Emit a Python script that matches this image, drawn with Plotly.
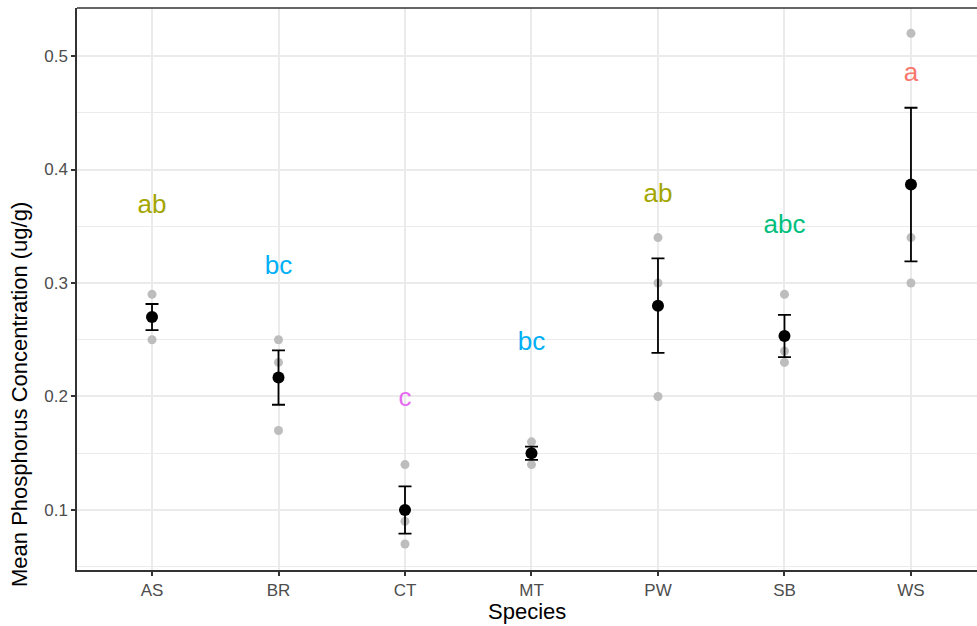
import plotly.graph_objects as go

species = ["AS", "BR", "CT", "MT", "PW", "SB", "WS"]
# individual replicate values (grey points)
rep1 = [0.29, 0.25, 0.14, 0.16, 0.34, 0.29, 0.52]
rep2 = [0.27, 0.23, 0.09, 0.15, 0.30, 0.24, 0.34]
rep3 = [0.25, 0.17, 0.07, 0.14, 0.20, 0.23, 0.30]
# means and standard errors
means = [0.270, 0.2167, 0.100, 0.150, 0.280, 0.2533, 0.3867]
ses = [0.0115, 0.0240, 0.0208, 0.0058, 0.0416, 0.0186, 0.0677]
# significance letters
letters = ["ab", "bc", "c", "bc", "ab", "abc", "a"]
letter_y = [0.367, 0.314, 0.197, 0.247, 0.377, 0.350, 0.484]
letter_colors = {"a": "#F8766D", "ab": "#A3A500", "abc": "#00BF7D",
                 "bc": "#00B0F6", "c": "#E76BF3"}
y_ticks = [0.1, 0.2, 0.3, 0.4, 0.5]

FONT = "Liberation Sans, Arial, sans-serif"

fig = go.Figure()

for reps in (rep1, rep2, rep3):
    fig.add_trace(go.Scatter(
        x=species, y=reps, mode="markers",
        marker=dict(color="#BDBDBD", size=9, line=dict(width=0)),
        showlegend=False, hoverinfo="skip"))

fig.add_trace(go.Scatter(
    x=species, y=means, mode="markers",
    marker=dict(color="black", size=12, line=dict(width=0)),
    error_y=dict(type="data", array=ses, visible=True, color="black",
                 thickness=1.8, width=6.5),
    showlegend=False))

fig.add_trace(go.Scatter(
    x=species, y=letter_y, mode="text", text=letters,
    textposition="middle center",
    textfont=dict(family=FONT, size=26,
                  color=[letter_colors[l] for l in letters]),
    showlegend=False, hoverinfo="skip"))

fig.update_layout(
    width=977, height=626,
    margin=dict(l=77, r=0, t=8, b=56),
    plot_bgcolor="white", paper_bgcolor="white",
    font=dict(family=FONT),
    xaxis=dict(
        type="category", categoryorder="array", categoryarray=species,
        range=[-0.593, 6.522],
        showgrid=True, gridcolor="#EBEBEB", gridwidth=1.6,
        showline=True, linecolor="#333333", linewidth=1.5,
        ticks="outside", ticklen=4, tickwidth=1.5, tickcolor="#333333",
        tickfont=dict(size=17, color="#4D4D4D"),
        zeroline=False,
    ),
    yaxis=dict(
        range=[0.0471, 0.5423],
        tickvals=y_ticks, ticktext=[f"{v:.1f}" for v in y_ticks],
        showgrid=True, gridcolor="#EBEBEB", gridwidth=1.6,
        minor=dict(tick0=0.05, dtick=0.1, showgrid=True,
                   gridcolor="#EBEBEB", gridwidth=0.8),
        showline=True, linecolor="#333333", linewidth=1.5,
        ticks="outside", ticklen=4, tickwidth=1.5, tickcolor="#333333",
        tickfont=dict(size=17, color="#4D4D4D"),
        zeroline=False,
    ),
    shapes=[dict(type="line", xref="paper", yref="paper", x0=0, x1=1.05,
                 y0=1, y1=1, line=dict(color="#333333", width=1.5))],
    annotations=[
        dict(text="Species", xref="paper", yref="paper", x=(527 - 77) / 900,
             y=-41 / 562, xanchor="center", yanchor="middle",
             showarrow=False, font=dict(size=22, color="black")),
        dict(text="Mean Phosphorus Concentration (ug/g)", xref="paper",
             yref="paper", x=-57 / 900, y=(570 - 395) / 562, textangle=-90,
             xanchor="center", yanchor="middle", showarrow=False,
             font=dict(size=22, color="black")),
    ],
)

fig.write_html("out.html")
